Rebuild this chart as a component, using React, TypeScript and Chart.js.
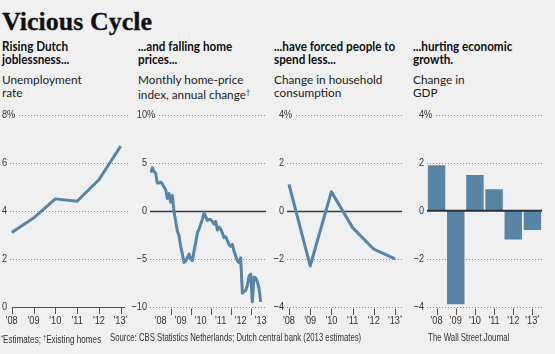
import React, { useEffect, useLayoutEffect, useRef } from 'react';
import { Chart, registerables } from 'chart.js';
Chart.register(...registerables);

// ---------- data ----------
const yearLabels = ["'08", "'09", "'10", "'11", "'12", "'13"];
const estYearLabels = ["'08", "'09", "'10", "'11", "'12", "'13*"];

// Panel 1: unemployment rate (%)
const unempYears = [2008, 2009, 2010, 2011, 2012, 2013];
const unempRate = [3.1, 3.7, 4.5, 4.4, 5.3, 6.7];
const unempTicks = [0, 2, 4, 6, 8];

// Panel 2: monthly home-price index, annual change (%), from Jan 2008
const homeStartYear = 2008;
const homePriceChange = [
  4.0, 4.5, 4.1, 3.9, 2.9, 2.9, 3.0, 2.8, 2.5, 2.2, 1.3, 1.8,
  0.9, 1.6, -0.1, -1.1, -2.1, -2.6, -3.7, -4.5, -5.4, -5.2, -4.9, -4.5,
  -5.0, -5.2, -4.2, -3.3, -2.3, -1.9, -1.4, -0.9, -0.2, -0.6, -1.0, -0.9,
  -0.9, -1.1, -1.4, -1.1, -2.0, -1.7, -1.9, -2.3, -2.8, -2.7, -3.1, -3.5,
  -3.7, -3.5, -4.2, -4.7, -5.2, -5.4, -4.9, -8.6, -8.4, -8.3, -7.8, -6.8,
  -6.6, -9.5, -6.9, -7.0, -7.4, -8.1, -9.5,
];
const homeTicks = [-10, -5, 0, 5, 10];
const homeTickYears = [2009, 2010, 2011, 2012, 2013];
const homeLabelYears = [2008.5, 2009.5, 2010.5, 2011.5, 2012.5, 2013.5];

// Panel 3: change in household consumption (%)
const consYears = [2008, 2009, 2010, 2011, 2012, 2013];
const consChange = [1.1, -2.3, 0.8, -0.7, -1.6, -2.0];
const consTicks = [-4, -2, 0, 2, 4];

// Panel 4: change in GDP (%)
const gdpChange = [1.9, -3.9, 1.5, 0.9, -1.2, -0.8];
const gdpTicks = [-4, -2, 0, 2, 4];

// ---------- style ----------
const W = 555;
const H = 354;
const BG = '#f0f0f0';
const BLUE = '#5885a6';
const TXT = '#333333';
const SANS = '"Liberation Sans", Arial, sans-serif';
const SX = 0.8; // horizontal condensing of axis text
const TOP = 115;
const BOTTOM = 306.7;

const pad = (left: number, right: number) => ({
  left,
  right: W - right,
  top: TOP,
  bottom: H - BOTTOM,
});

const minusFmt = (v: number) => (v < 0 ? '\u2212' + Math.abs(v) : String(v));

function drawYGrid(chart: any, ticks: number[], o: { zeroLine: boolean; skipBottom?: boolean }) {
  const { ctx, chartArea } = chart;
  const ys = chart.scales.y;
  ctx.save();
  ticks.forEach((v, i) => {
    const y = Math.round(ys.getPixelForValue(v)) + 0.5;
    if (v === 0 && o.zeroLine) {
      ctx.setLineDash([]);
      ctx.strokeStyle = '#3a3a3a';
      ctx.lineWidth = 1.3;
    } else if (i === 0 && o.skipBottom) {
      return;
    } else {
      ctx.setLineDash([1, 2]);
      ctx.strokeStyle = '#8c8c8c';
      ctx.lineWidth = 1;
    }
    ctx.beginPath();
    ctx.moveTo(chartArea.left, y);
    ctx.lineTo(chartArea.right, y);
    ctx.stroke();
  });
  ctx.restore();
}

function drawYLabels(chart: any, ticks: number[]) {
  const { ctx, chartArea } = chart;
  const ys = chart.scales.y;
  const top = Math.max(...ticks);
  ticks.forEach((v) => {
    const y = ys.getPixelForValue(v);
    const x = chartArea.left - 3;
    ctx.save();
    ctx.font = `11px ${SANS}`;
    ctx.textBaseline = 'middle';
    ctx.translate(x, y);
    ctx.scale(0.83, 1);
    ctx.fillStyle = TXT;
    ctx.textAlign = 'right';
    ctx.fillText(minusFmt(v), 0, 0);
    if (v === top) {
      ctx.textAlign = 'left';
      const w = ctx.measureText('%').width;
      ctx.fillStyle = BG;
      ctx.fillRect(0, -6, w + 2.5, 12);
      ctx.fillStyle = TXT;
      ctx.fillText('%', 0, 0);
    }
    ctx.restore();
  });
}

function drawXLabel(ctx: any, label: string, x: number, y: number) {
  const star = label.endsWith('*');
  const main = star ? label.slice(0, -1) : label;
  ctx.save();
  ctx.translate(x, y);
  ctx.scale(SX, 1);
  ctx.font = `11.5px ${SANS}`;
  const w1 = ctx.measureText(main).width;
  ctx.font = `7px ${SANS}`;
  const w2 = star ? ctx.measureText('*').width : 0;
  const start = -(w1 + w2) / 2;
  ctx.textAlign = 'left';
  ctx.textBaseline = 'middle';
  ctx.fillStyle = TXT;
  ctx.font = `11.5px ${SANS}`;
  ctx.fillText(main, start, 0);
  if (star) {
    ctx.font = `7px ${SANS}`;
    ctx.fillText('*', start + w1, -3);
  }
  ctx.restore();
}

function drawXTicks(chart: any, vals: number[], y0: number, y1: number) {
  const { ctx } = chart;
  const xs = chart.scales.x;
  ctx.save();
  ctx.strokeStyle = '#555';
  ctx.lineWidth = 1;
  vals.forEach((v) => {
    const x = Math.round(xs.getPixelForValue(v)) + 0.5;
    ctx.beginPath();
    ctx.moveTo(x, y0);
    ctx.lineTo(x, y1);
    ctx.stroke();
  });
  ctx.restore();
}

function drawXLabels(chart: any, vals: number[], labels: string[], y: number) {
  const { ctx } = chart;
  const xs = chart.scales.x;
  vals.forEach((v, i) => drawXLabel(ctx, labels[i], xs.getPixelForValue(v), y));
}

const LABEL_Y = 321;

function lineDataset(points: { x: number; y: number }[]) {
  return {
    data: points,
    borderColor: BLUE,
    borderWidth: 3,
    pointRadius: 0,
    tension: 0,
    borderJoinStyle: 'round' as const,
    borderCapStyle: 'butt' as const,
    fill: false,
  };
}

const baseOptions = (padding: any, xScale: any, ymin: number, ymax: number) => ({
  responsive: false,
  animation: false as const,
  devicePixelRatio: 1,
  events: [],
  layout: { padding },
  plugins: { legend: { display: false }, tooltip: { enabled: false } },
  scales: {
    x: xScale,
    y: { type: 'linear', min: ymin, max: ymax, display: false },
  },
});

function cfgUnemp(): any {
  return {
    type: 'line',
    data: { datasets: [lineDataset(unempYears.map((x, i) => ({ x, y: unempRate[i] })))] },
    options: baseOptions(pad(10, 128), { type: 'linear', min: 2007.92, max: 2013.335, display: false }, 0, 8),
    plugins: [
      {
        id: 'p1axes',
        beforeDatasetsDraw(chart: any) {
          drawYGrid(chart, unempTicks, { zeroLine: false, skipBottom: true });
          const { ctx, chartArea } = chart;
          const xs = chart.scales.x;
          const y = Math.round(chart.scales.y.getPixelForValue(0)) + 0.5;
          ctx.save();
          ctx.strokeStyle = '#555';
          ctx.lineWidth = 1.2;
          ctx.beginPath();
          ctx.moveTo(Math.round(xs.getPixelForValue(unempYears[0])), y);
          ctx.lineTo(chartArea.right - 3, y);
          ctx.stroke();
          ctx.restore();
          drawXTicks(chart, unempYears, y, y + 6.5);
        },
        afterDraw(chart: any) {
          drawYLabels(chart, unempTicks);
          drawXLabels(chart, unempYears, estYearLabels, LABEL_Y);
        },
      },
    ],
  };
}

function cfgHome(): any {
  return {
    type: 'line',
    data: {
      datasets: [lineDataset(homePriceChange.map((y, i) => ({ x: homeStartYear + i / 12, y })))],
    },
    options: baseOptions(pad(150, 266), { type: 'linear', min: 2007.965, max: 2013.765, display: false }, -10, 10),
    plugins: [
      {
        id: 'p2axes',
        beforeDatasetsDraw(chart: any) {
          drawYGrid(chart, homeTicks, { zeroLine: true });
          drawXTicks(chart, homeTickYears, 308.5, 315);
        },
        afterDraw(chart: any) {
          drawYLabels(chart, homeTicks);
          drawXLabels(chart, homeLabelYears, yearLabels, LABEL_Y);
        },
      },
    ],
  };
}

function cfgCons(): any {
  return {
    type: 'line',
    data: { datasets: [lineDataset(consYears.map((x, i) => ({ x, y: consChange[i] })))] },
    options: baseOptions(pad(287, 402), { type: 'linear', min: 2007.906, max: 2013.33, display: false }, -4, 4),
    plugins: [
      {
        id: 'p3axes',
        beforeDatasetsDraw(chart: any) {
          drawYGrid(chart, consTicks, { zeroLine: true });
          drawXTicks(chart, consYears, 308.5, 315);
        },
        afterDraw(chart: any) {
          drawYLabels(chart, consTicks);
          drawXLabels(chart, consYears, estYearLabels, LABEL_Y);
        },
      },
    ],
  };
}

function cfgGdp(): any {
  return {
    type: 'bar',
    data: {
      labels: estYearLabels,
      datasets: [
        {
          data: gdpChange,
          backgroundColor: BLUE,
          borderWidth: 0,
          barPercentage: 1,
          categoryPercentage: 0.91,
        },
      ],
    },
    options: baseOptions(pad(427, 542), { type: 'category', display: false }, -4, 4),
    plugins: [
      {
        id: 'p4axes',
        beforeDatasetsDraw(chart: any) {
          drawYGrid(chart, gdpTicks.filter((v) => v !== 0), { zeroLine: false });
          drawXTicks(chart, gdpChange.map((_, i) => i), 308.5, 315);
        },
        afterDatasetsDraw(chart: any) {
          const { ctx, chartArea } = chart;
          const y = chart.scales.y.getPixelForValue(0);
          ctx.save();
          ctx.strokeStyle = '#27343d';
          ctx.lineWidth = 2;
          ctx.beginPath();
          ctx.moveTo(chartArea.left, y);
          ctx.lineTo(chartArea.right, y);
          ctx.stroke();
          ctx.restore();
        },
        afterDraw(chart: any) {
          drawYLabels(chart, gdpTicks);
          drawXLabels(chart, gdpChange.map((_, i) => i), estYearLabels, LABEL_Y);
        },
      },
    ],
  };
}

// Text that is squeezed horizontally to a target width
function Fit({ w, right = false, style, children }: any) {
  const ref = useRef<HTMLSpanElement>(null);
  useLayoutEffect(() => {
    const el = ref.current;
    if (!el) return;
    el.style.transform = 'none';
    const actual = el.offsetWidth;
    if (actual > 0) el.style.transform = `scaleX(${w / actual})`;
  }, [w]);
  return (
    <span
      ref={ref}
      style={{ display: 'inline-block', whiteSpace: 'nowrap', transformOrigin: right ? 'right center' : 'left center', ...style }}
    >
      {children}
    </span>
  );
}

const headFont = 'Lato, "Open Sans", sans-serif';
const subFont = 'Lato, "Open Sans", sans-serif';

const panels = [
  { x: 2, head: ['Rising Dutch', 'joblessness...'], sub: ['Unemployment', 'rate'], dag: false },
  { x: 138, head: ['...and falling home', 'prices...'], sub: ['Monthly home-price', 'index, annual change'], dag: true },
  { x: 274, head: ['...have forced people to', 'spend less...'], sub: ['Change in household', 'consumption'], dag: false },
  { x: 413, head: ['...hurting economic', 'growth.'], sub: ['Change in', 'GDP'], dag: false },
];

export default function App() {
  const refs = [useRef<HTMLCanvasElement>(null), useRef<HTMLCanvasElement>(null), useRef<HTMLCanvasElement>(null), useRef<HTMLCanvasElement>(null)];
  useEffect(() => {
    const cfgs = [cfgUnemp(), cfgHome(), cfgCons(), cfgGdp()];
    const charts = cfgs.map((c, i) => new Chart(refs[i].current as HTMLCanvasElement, c));
    return () => charts.forEach((c) => c.destroy());
  }, []);

  const abs = (left: number, top: number, extra: any = {}) => ({
    position: 'absolute' as const,
    left,
    top,
    whiteSpace: 'nowrap' as const,
    margin: 0,
    ...extra,
  });

  const foot = { fontFamily: SANS, fontSize: 10.8, lineHeight: '13px', color: '#333' };
  const sup = { fontSize: 7, verticalAlign: 3 };

  return (
    <div style={{ position: 'fixed', left: 0, top: 0, width: W, height: H, background: BG, overflow: 'hidden' }}>
      <div
        style={abs(2, 7, {
          fontFamily: '"Liberation Serif", "DejaVu Serif", serif',
          fontWeight: 700,
          fontSize: 26,
          lineHeight: '30px',
          color: '#111',
          WebkitTextStroke: '0.3px #111',
        })}
      >
        Vicious Cycle
      </div>
      {panels.map((p, i) => (
        <React.Fragment key={i}>
          <div
            style={abs(p.x, 40, {
              fontFamily: headFont,
              fontWeight: 700,
              fontSize: 13,
              lineHeight: '13.3px',
              color: '#111',
              transform: 'scaleX(0.9)',
              transformOrigin: 'left top',
            })}
          >
            {p.head[0]}
            <br />
            {p.head[1]}
          </div>
          <div style={abs(p.x, 73, { fontFamily: subFont, fontSize: 11.8, lineHeight: '13.4px', color: '#222' })}>
            {p.sub[0]}
            <br />
            {p.sub[1]}
            {p.dag ? <span style={{ fontSize: 7, verticalAlign: 4 }}>†</span> : null}
          </div>
        </React.Fragment>
      ))}
      {refs.map((r, i) => (
        <canvas key={i} ref={r} width={W} height={H} style={{ position: 'absolute', left: 0, top: 0, width: W, height: H }} />
      ))}
      <div style={abs(1, 331, foot)}>
        <Fit w={100}>
          <span style={sup}>*</span>Estimates; <span style={sup}>†</span>Existing homes
        </Fit>
      </div>
      <div style={abs(110, 331, foot)}>
        <Fit w={251}>Source: CBS Statistics Netherlands; Dutch central bank (2013 estimates)</Fit>
      </div>
      <div style={{ ...abs(0, 331, foot), left: 'auto', right: W - 509 }}>
        <Fit w={81} right>
          The Wall Street Journal
        </Fit>
      </div>
    </div>
  );
}
